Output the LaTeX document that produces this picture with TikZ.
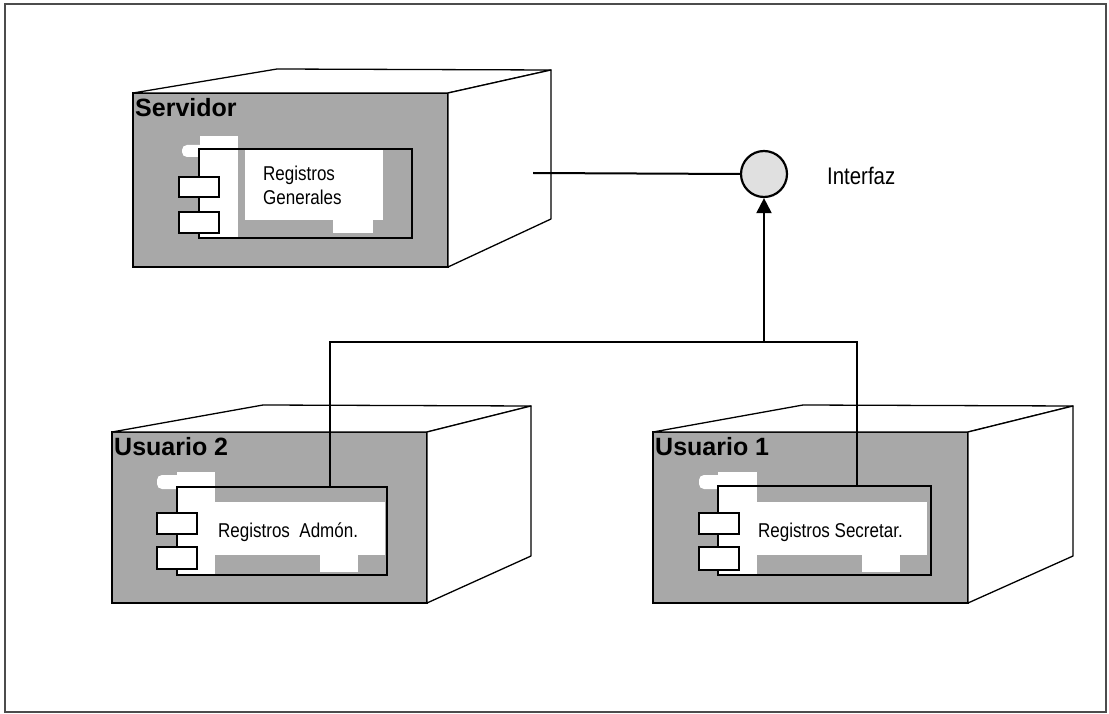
\documentclass[tikz,border=0pt]{standalone}
\usepackage{fontspec}
\setmainfont{Liberation Sans}
\newfontfamily\narrowfont{Liberation Sans}[FakeStretch=0.85]
\usetikzlibrary{arrows.meta}
\definecolor{stipple}{gray}{0.66}
\definecolor{ifacefill}{gray}{0.88}
\tikzset{
  frontface/.style={draw=black, line width=1.6pt, fill=stipple},
  sideface/.style={draw=black, line width=1.3pt, fill=white, line join=round},
  nodetitle/.style={anchor=base west, inner sep=0pt, font=\fontsize{25}{28}\selectfont\bfseries},
  compbox/.style={draw=black, line width=1.2pt},
  whitepatch/.style={fill=white, draw=none},
  port/.style={draw=black, line width=1.2pt, fill=white},
  complabel/.style={anchor=west, inner sep=0pt, align=left, font=\narrowfont\fontsize{20}{24}\selectfont},
  conn/.style={draw=black, line width=2pt},
  iface/.style={circle, draw=black, line width=2.2pt, fill=ifacefill, minimum size=46pt, inner sep=0pt},
  frame/.style={draw=black!70, line width=1.3pt},
}
\begin{document}
\begin{tikzpicture}[x=1pt,y=-1pt]
\useasboundingbox (0,0) rectangle (1109,714);
\fill[white] (0,0) rectangle (1109,714);
\draw[frame] (5,4) rectangle (1106,712);

% ---------- Servidor ----------
\draw[frontface] (133,93) rectangle (448,267);
\draw[sideface] (133,93) -- (277,69) -- (551,70) -- (448,93) -- cycle;
\draw[sideface] (448,93) -- (551,70) -- (551,219) -- (448,267) -- cycle;
\node[nodetitle] (servT) at (135,117) {Servidor};
% component
\fill[whitepatch] (200,136) rectangle (238,238);
\fill[whitepatch, rounded corners=5pt] (182,145) rectangle (205,157);
\fill[whitepatch] (245,150) rectangle (383,220);
\fill[whitepatch] (333,219) rectangle (373,233);
\draw[compbox] (199,149) rectangle (412,238);
\draw[port] (179,177) rectangle (219,197);
\draw[port] (179,212) rectangle (219,233);
\node[complabel] (regGen) at (263,185) {Registros\\Generales};

% ---------- Usuario 2 ----------
\draw[frontface] (112,432) rectangle (427,603);
\draw[sideface] (112,432) -- (263,405) -- (531,406) -- (427,432) -- cycle;
\draw[sideface] (427,432) -- (531,406) -- (531,556) -- (427,603) -- cycle;
\node[nodetitle] (us2T) at (114,455) {Usuario 2};
\fill[whitepatch] (177,472) rectangle (215,575);
\fill[whitepatch, rounded corners=5pt] (157,475) rectangle (182,489);
\fill[whitepatch] (215,502) rectangle (385,555);
\fill[whitepatch] (320,554) rectangle (358,572);
\draw[compbox] (177,487) rectangle (387,575);
\draw[port] (157,513) rectangle (197,534);
\draw[port] (157,547) rectangle (197,569);
\node[complabel] (regAdm) at (218,532) {Registros\ \ Admón.};

% ---------- Usuario 1 ----------
\draw[frontface] (653,432) rectangle (968,603);
\draw[sideface] (653,432) -- (803,405) -- (1073,406) -- (968,432) -- cycle;
\draw[sideface] (968,432) -- (1073,406) -- (1073,556) -- (968,603) -- cycle;
\node[nodetitle] (us1T) at (655,455) {Usuario 1};
\fill[whitepatch] (718,472) rectangle (757,575);
\fill[whitepatch, rounded corners=5pt] (699,475) rectangle (723,489);
\fill[whitepatch] (757,502) rectangle (927,555);
\fill[whitepatch] (862,554) rectangle (900,572);
\draw[compbox] (718,486) rectangle (931,575);
\draw[port] (699,513) rectangle (739,534);
\draw[port] (699,547) rectangle (739,570);
\node[complabel] (regSec) at (758,532) {Registros Secretar.};

% ---------- Interface and connectors ----------
\node[iface] (ifc) at (764,174) {};
\node[anchor=west, inner sep=0pt, font=\narrowfont\fontsize{24}{28}\selectfont] (ifcL) at (827,176) {Interfaz};

\coordinate (srvOut) at (533,173);
\coordinate (admTop) at (330,487);
\coordinate (secTop) at (857,486);
\coordinate (busL) at (330,342);
\coordinate (busR) at (857,342);
\coordinate (busA) at (764,342);

\draw[conn] (srvOut) -- (ifc.west);
\draw[conn] (admTop) -- (busL) -- (busR) -- (secTop);
\draw[conn, -{Triangle[length=15pt,width=15pt]}] (busA) -- (ifc.south);
\end{tikzpicture}
\end{document}
